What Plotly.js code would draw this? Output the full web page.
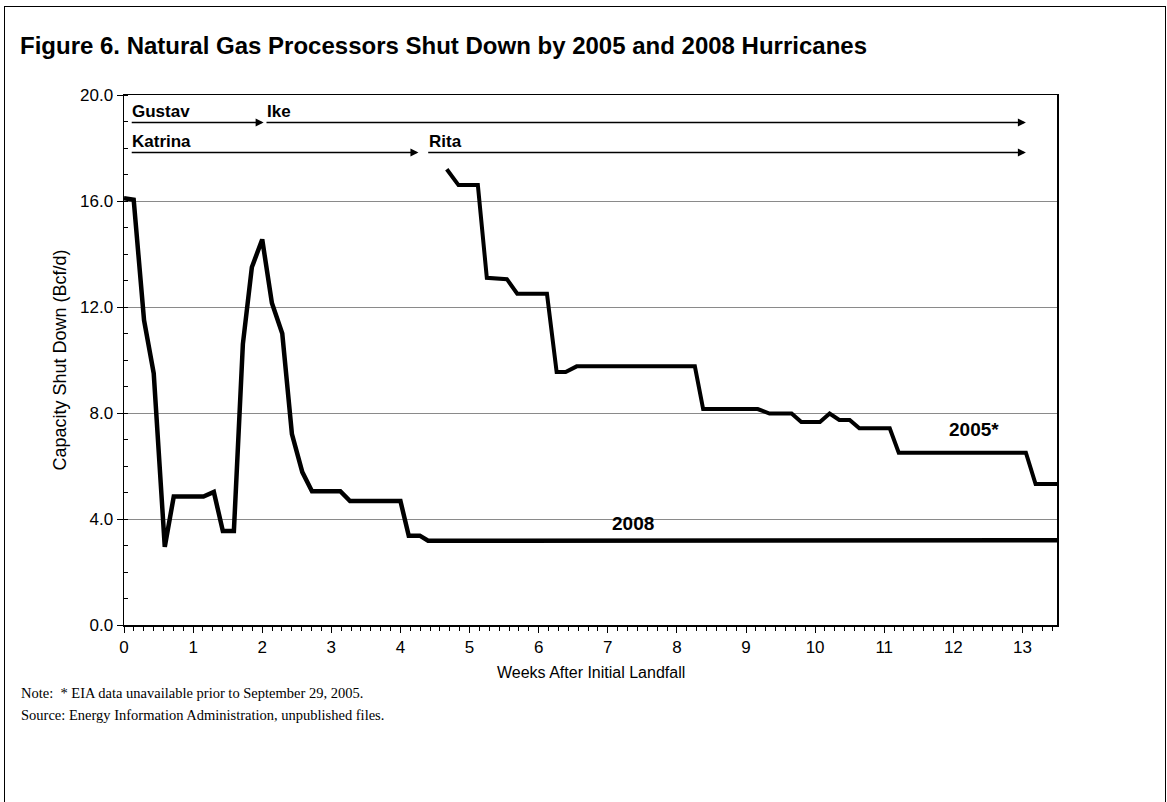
<!DOCTYPE html>
<html><head><meta charset="utf-8">
<script src="https://cdn.plot.ly/plotly-3.0.1.min.js"></script>
<style>
html,body{margin:0;padding:0;background:#fff;}
#chart{width:1167px;height:802px;position:absolute;left:0;top:0;}
#frame{position:absolute;left:4px;top:6px;width:1162px;height:800px;border-left:1.5px solid #000;border-top:1.5px solid #000;border-right:1px solid #000;box-sizing:border-box;pointer-events:none;}
</style></head><body>
<div id="chart"></div><div id="frame"></div>
<script>
// 2008 hurricanes (Gustav, Ike): weeks after initial landfall vs capacity shut down (Bcf/d)
const weeks2008 = [0, 0.14, 0.29, 0.43, 0.59, 0.72, 1.15, 1.30, 1.43, 1.59, 1.72, 1.85, 2.00, 2.14, 2.29, 2.43, 2.58, 2.72, 3.13, 3.27, 4.00, 4.12, 4.28, 4.40, 13.5];
const cap2008   = [16.1, 16.05, 11.5, 9.5, 2.95, 4.85, 4.85, 5.02, 3.55, 3.55, 10.6, 13.5, 14.55, 12.15, 11.0, 7.2, 5.77, 5.05, 5.05, 4.68, 4.68, 3.37, 3.37, 3.18, 3.2];
// 2005 hurricanes (Katrina, Rita)
const weeks2005 = [4.67, 4.84, 5.12, 5.25, 5.54, 5.69, 6.12, 6.26, 6.39, 6.55, 8.26, 8.38, 9.17, 9.34, 9.66, 9.80, 10.07, 10.21, 10.35, 10.50, 10.64, 11.08, 11.21, 13.05, 13.19, 13.5];
const cap2005   = [17.2, 16.6, 16.6, 13.1, 13.05, 12.5, 12.5, 9.55, 9.55, 9.76, 9.76, 8.15, 8.15, 7.98, 7.98, 7.66, 7.66, 7.98, 7.74, 7.74, 7.42, 7.42, 6.5, 6.5, 5.32, 5.32];
// hurricane periods (weeks)
const hurricaneNames = ['Gustav', 'Ike', 'Katrina', 'Rita'];
const hurricaneStart = [0.09, 2.04, 0.09, 4.38];
const hurricaneEnd   = [2.02, 13.05, 4.26, 13.05];
const hurricaneRow   = [18.96, 18.96, 17.83, 17.83];
const xTickVals = [0,1,2,3,4,5,6,7,8,9,10,11,12,13];
const yTickVals = [0, 4, 8, 12, 16, 20];

const W = 1167, H = 802;
const L = 123.5, R = 1057.5, T = 94.7, B = 624.7;
const pw = R - L, ph = B - T;
const px = v => (v - L) / pw;
const py = v => (B - v) / ph;

const font = 'Arial, "Liberation Sans", sans-serif';
const serif = '"Times New Roman", "Liberation Serif", serif';

const traces = [
  {x: weeks2008, y: cap2008, mode: 'lines', line: {color: '#000', width: 4.5}, hoverinfo: 'skip', name: '2008'},
  {x: weeks2005, y: cap2005, mode: 'lines', line: {color: '#000', width: 4}, hoverinfo: 'skip', name: '2005'}
];

const ann = [];
for (let i = 0; i < hurricaneNames.length; i++) {
  ann.push({x: hurricaneEnd[i], y: hurricaneRow[i], ax: hurricaneStart[i], ay: hurricaneRow[i],
    xref: 'x', yref: 'y', axref: 'x', ayref: 'y', text: '', showarrow: true,
    arrowhead: 2, arrowsize: 1, arrowwidth: 1.6, arrowcolor: '#000', standoff: 0, startstandoff: 0});
  ann.push({x: hurricaneStart[i], y: hurricaneRow[i] + 0.42, xref: 'x', yref: 'y', text: '<b>' + hurricaneNames[i] + '</b>',
    showarrow: false, xanchor: 'left', yanchor: 'middle', font: {family: font, size: 17, color: '#000'}});
}
ann.push({x: 7.36, y: 3.82, xref: 'x', yref: 'y', text: '<b>2008</b>', showarrow: false, font: {family: font, size: 19, color: '#000'}});
ann.push({x: 12.30, y: 7.39, xref: 'x', yref: 'y', text: '<b>2005*</b>', showarrow: false, font: {family: font, size: 19, color: '#000'}});
ann.push({x: px(18), y: py(693), xref: 'paper', yref: 'paper', xanchor: 'left', yanchor: 'middle', showarrow: false,
  text: 'Note:  * EIA data unavailable prior to September 29, 2005.', font: {family: serif, size: 14.5, color: '#000'}});
ann.push({x: px(18), y: py(715), xref: 'paper', yref: 'paper', xanchor: 'left', yanchor: 'middle', showarrow: false,
  text: 'Source: Energy Information Administration, unpublished files.', font: {family: serif, size: 14.5, color: '#000'}});
ann.push({x: 0.5, y: py(672), xref: 'paper', yref: 'paper', xanchor: 'center', yanchor: 'middle', showarrow: false,
  text: 'Weeks After Initial Landfall', font: {family: font, size: 16, color: '#000'}});

const layout = {
  width: W, height: H,
  margin: {l: L, r: W - R, t: T, b: H - B, pad: 0},
  paper_bgcolor: '#fff', plot_bgcolor: '#fff',
  showlegend: false,
  title: {text: '<b>Figure 6. Natural Gas Processors Shut Down by 2005 and 2008 Hurricanes</b>',
    xref: 'container', yref: 'container', x: 20 / W, xanchor: 'left', y: 1 - 46 / H, yanchor: 'middle',
    font: {family: font, size: 24, color: '#000'}},
  xaxis: {range: [0, 13.5], tickvals: xTickVals, ticktext: xTickVals.map(String), ticks: 'outside', ticklen: 6,
    tickcolor: '#000', tickwidth: 1,
    minor: {dtick: 1 / 7, tick0: 0, ticks: 'outside', ticklen: 4, tickcolor: '#000', tickwidth: 1, showgrid: false},
    showgrid: false, zeroline: false, showline: true, linecolor: '#000', linewidth: 1.5, mirror: true,
    tickfont: {family: font, size: 17, color: '#000'}, fixedrange: true},
  yaxis: {range: [0, 20], tickvals: yTickVals, ticktext: yTickVals.map(v => v.toFixed(1)), ticks: 'outside', ticklen: 6,
    tickcolor: '#000', tickwidth: 1,
    minor: {dtick: 1, tick0: 0, ticks: 'inside', ticklen: 4, tickcolor: '#000', tickwidth: 1, showgrid: false},
    showgrid: true, gridcolor: '#8a8a8a', gridwidth: 1, zeroline: false, showline: true, linecolor: '#000', linewidth: 1.5, mirror: true,
    tickfont: {family: font, size: 17, color: '#000'},
    title: {text: 'Capacity Shut Down (Bcf/d)', font: {family: font, size: 18, color: '#000'}, standoff: 8}, fixedrange: true},
  annotations: ann
};

Plotly.newPlot('chart', traces, layout, {staticPlot: true, displayModeBar: false});
</script>
</body></html>
